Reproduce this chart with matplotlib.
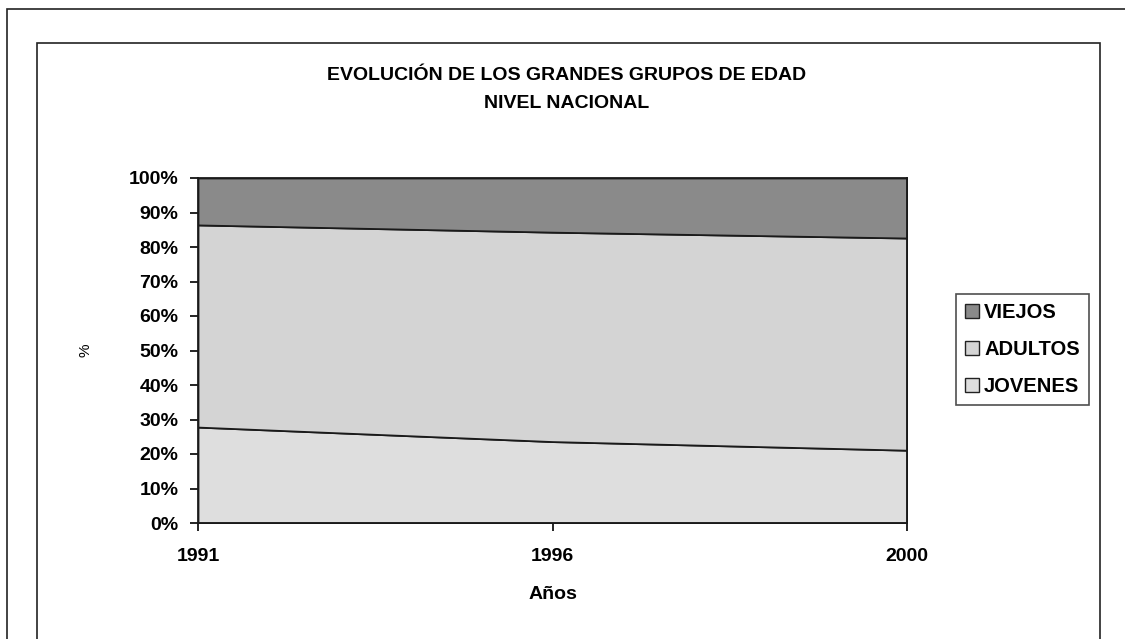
import matplotlib.pyplot as plt
from matplotlib.patches import Rectangle, Patch

years = ['1991', '1996', '2000']
jovenes = [27.8, 23.6, 21.1]
adultos = [58.6, 60.7, 61.5]
viejos = [13.6, 15.7, 17.4]

series = ['JOVENES', 'ADULTOS', 'VIEJOS']
colores = ['#dedede', '#d4d4d4', '#8a8a8a']

plt.rcParams['font.family'] = ['Liberation Sans', 'DejaVu Sans']

fig = plt.figure(figsize=(11.25, 6.39), dpi=100)
W, H = 1125, 639

# marcos exteriores (como el recorte de Excel)
fig.patches.append(Rectangle((7 / W, -0.2), 1.2, 1 - 9 / H + 0.2, transform=fig.transFigure,
                             fill=False, edgecolor='#222222', linewidth=1.2))
fig.patches.append(Rectangle((37 / W, -0.2), (1100 - 37) / W, 1 - 43 / H + 0.2, transform=fig.transFigure,
                             fill=False, edgecolor='#222222', linewidth=1.2))

ax = fig.add_axes([198 / W, 1 - 523 / H, (907 - 198) / W, (523 - 178) / H])
x = list(range(len(years)))
ax.stackplot(x, jovenes, adultos, viejos, colors=colores, edgecolor='#1a1a1a', linewidth=1.3)

ax.set_xlim(0, 2)
ax.set_ylim(0, 100)
ax.set_xticks(x)
ax.set_xticklabels(years, fontsize=14, fontweight='bold')
ax.set_yticks(range(0, 101, 10))
ax.set_yticklabels([f'{v}%' for v in range(0, 101, 10)], fontsize=14, fontweight='bold')
ax.tick_params(axis='y', length=6, width=1.2, pad=8, direction='out')
ax.tick_params(axis='x', length=6, width=1.2, pad=12, direction='out')
for s in ax.spines.values():
    s.set_linewidth(1.3)
    s.set_color('#1a1a1a')

ax.set_xlabel('Años', fontsize=14, fontweight='bold', labelpad=15)
fig.text(85 / W, 1 - 350 / H, '%', fontsize=11, rotation=90, ha='center', va='center')

fig.text(567 / W, 1 - 75 / H, 'EVOLUCIÓN DE LOS GRANDES GRUPOS DE EDAD', fontsize=14,
         fontweight='bold', ha='center', va='center')
fig.text(567 / W, 1 - 104 / H, 'NIVEL NACIONAL', fontsize=14,
         fontweight='bold', ha='center', va='center')

handles = [Patch(facecolor=colores[i], edgecolor='#222222', label=series[i]) for i in [2, 1, 0]]
leg = fig.legend(handles=handles, loc='upper left', bbox_to_anchor=(956 / W, 1 - 294 / H),
                 frameon=True, fancybox=False, prop={'size': 14.5, 'weight': 'bold'},
                 handlelength=0.7, handleheight=0.7, handletextpad=0.25, labelspacing=0.9,
                 borderpad=0.45, borderaxespad=0)
leg.get_frame().set_edgecolor('#222222')
leg.get_frame().set_linewidth(1.2)

fig.savefig('out.png', dpi=100)
